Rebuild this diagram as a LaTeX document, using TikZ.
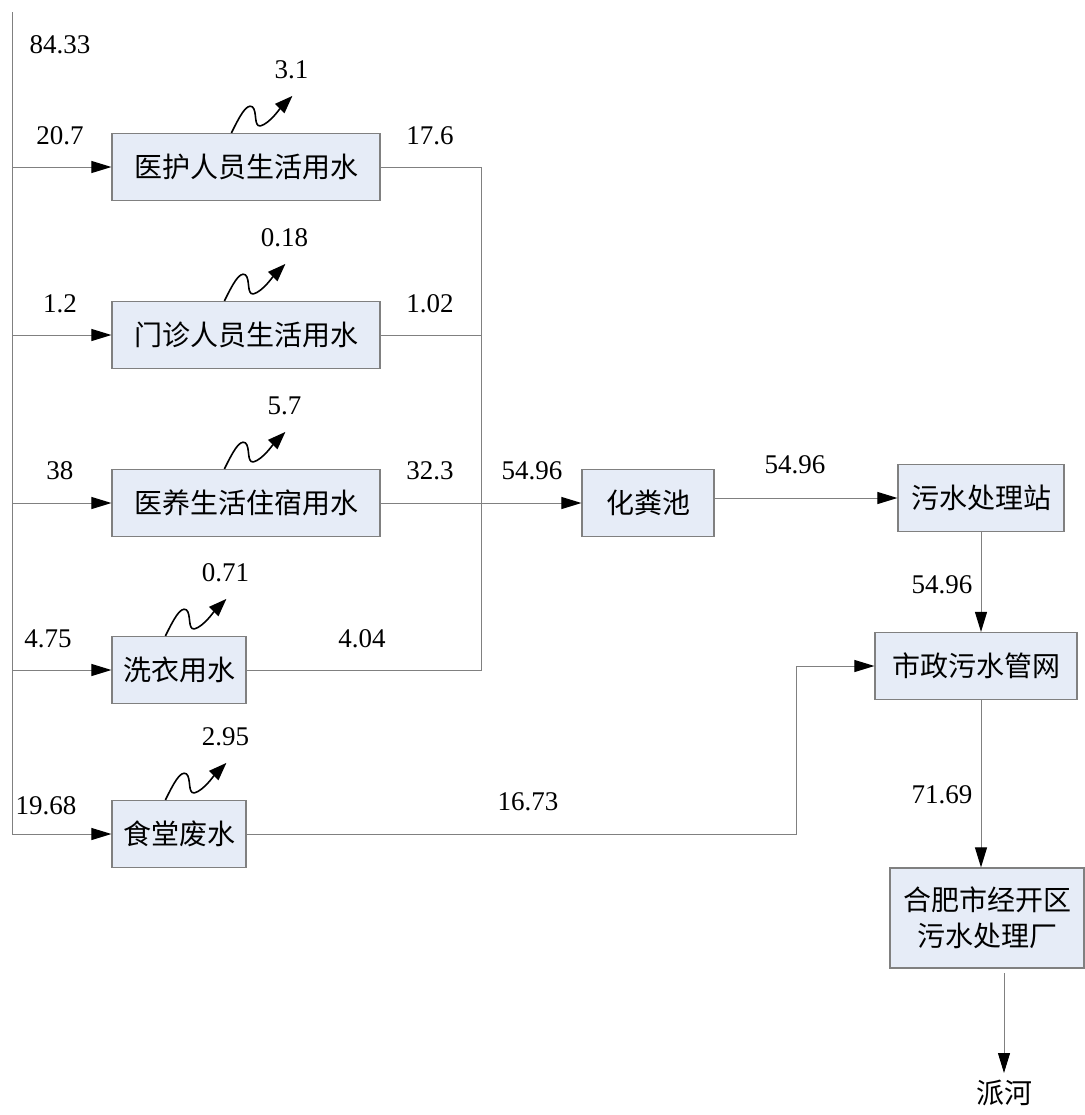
\documentclass[tikz,border=0pt]{standalone}
\usepackage{fontspec}
\setmainfont{Liberation Serif}
\newfontfamily\cjk{Noto Sans CJK SC}
\usetikzlibrary{arrows.meta,calc}
\definecolor{boxfill}{RGB}{230,236,247}
\definecolor{edge}{RGB}{128,128,128}
\tikzset{
  box/.style={draw=edge,fill=boxfill,line width=0.6pt,minimum height=33.5pt,inner sep=0pt,
    font=\cjk\fontsize{14}{18}\selectfont},
  num/.style={font=\fontsize{13.5}{16}\selectfont},
  flow/.style={draw=edge,line width=0.5pt},
  tip/.style={flow,-{Triangle[length=10pt,width=6pt,color=black]}},
  vapor/.pic={
    \draw[line width=0.8pt,-{Triangle[length=9pt,width=6.5pt]}] (0,0)
      .. controls (8,-16) and (15,-30) .. (21,-26)
      .. controls (26,-22) and (22,-6) .. (29,-7)
      .. controls (38,-9) and (50,-26) .. (61,-37);
    \node[num] (-v) at (60,-63) {#1};
  }
}
\begin{document}
\begin{tikzpicture}[x=0.5pt,y=-0.5pt]
\useasboundingbox (0,0) rectangle (1085,1115);
% boxes
\node[box,minimum width=134pt] (b1) at (246,167) {医护人员生活用水};
\node[box,minimum width=134pt] (b2) at (246,335) {门诊人员生活用水};
\node[box,minimum width=134pt] (b3) at (246,503) {医养生活住宿用水};
\node[box,minimum width=67pt] (b4) at (179,670) {洗衣用水};
\node[box,minimum width=67pt] (b5) at (179,834) {食堂废水};
\node[box,minimum width=66pt] (tank) at (648,503) {化粪池};
\node[box,minimum width=83pt] (station) at (981,498) {污水处理站};
\node[box,minimum width=101pt] (sewer) at (976,666) {市政污水管网};
\node[box,minimum width=97pt,minimum height=50pt,align=center] (plant) at (987,918) {合肥市经开区\\污水处理厂};
\node[font=\cjk\fontsize{14}{18}\selectfont,anchor=north] (river) at (1004,1073) {派河};
% supply trunk
\coordinate (top) at (12,12);
\coordinate (bot) at (12,834);
\draw[flow] (top) -- (bot);
\draw[tip] (top |- b1.west) -- (b1.west);
\draw[tip] (top |- b2.west) -- (b2.west);
\draw[tip] (top |- b3.west) -- (b3.west);
\draw[tip] (top |- b4.west) -- (b4.west);
\draw[tip] (top |- b5.west) -- (b5.west);
% collector
\coordinate (j) at (481,503);
\draw[flow] (b1.east) -- (b1.east -| j) -- (b4.east -| j) -- (b4.east);
\draw[flow] (b2.east) -- (b2.east -| j);
\draw[tip] (b3.east) -- (tank.west);
\draw[tip] ([yshift=2.5pt]tank.east) -- (station.west);
\draw[tip] (station.south) -- (station.south |- sewer.north);
\coordinate (bend) at (796,834);
\draw[tip] (b5.east) -- (bend) |- (sewer.west);
\draw[tip] (sewer.south -| station.south) -- (plant.north -| station.south);
\coordinate (out) at (1004,973);
\draw[tip] (out) -- (river.north);
% losses
\pic (p1) at ([xshift=60pt]b1.north west) {vapor=3.1};
\pic (p2) at ([xshift=56.5pt]b2.north west) {vapor=0.18};
\pic (p3) at ([xshift=56.5pt]b3.north west) {vapor=5.7};
\pic (p4) at ([xshift=27pt]b4.north west) {vapor=0.71};
\pic (p5) at ([xshift=27pt]b5.north west) {vapor=2.95};
% amounts
\node[num] (n1) at (60,45) {84.33};
\node[num] (n2) at (60,136) {20.7};
\node[num] (n3) at (430,136) {17.6};
\node[num] (n4) at (60,304) {1.2};
\node[num] (n5) at (430,304) {1.02};
\node[num] (n6) at (60,471) {38};
\node[num] (n7) at (430,471) {32.3};
\node[num] (n8) at (532,471) {54.96};
\node[num] (n9) at (795,465) {54.96};
\node[num] (n10) at (48,639) {4.75};
\node[num] (n11) at (362,639) {4.04};
\node[num] (n12) at (942,585) {54.96};
\node[num] (n13) at (46,806) {19.68};
\node[num] (n14) at (528,802) {16.73};
\node[num] (n15) at (942,795) {71.69};
\end{tikzpicture}
\end{document}
